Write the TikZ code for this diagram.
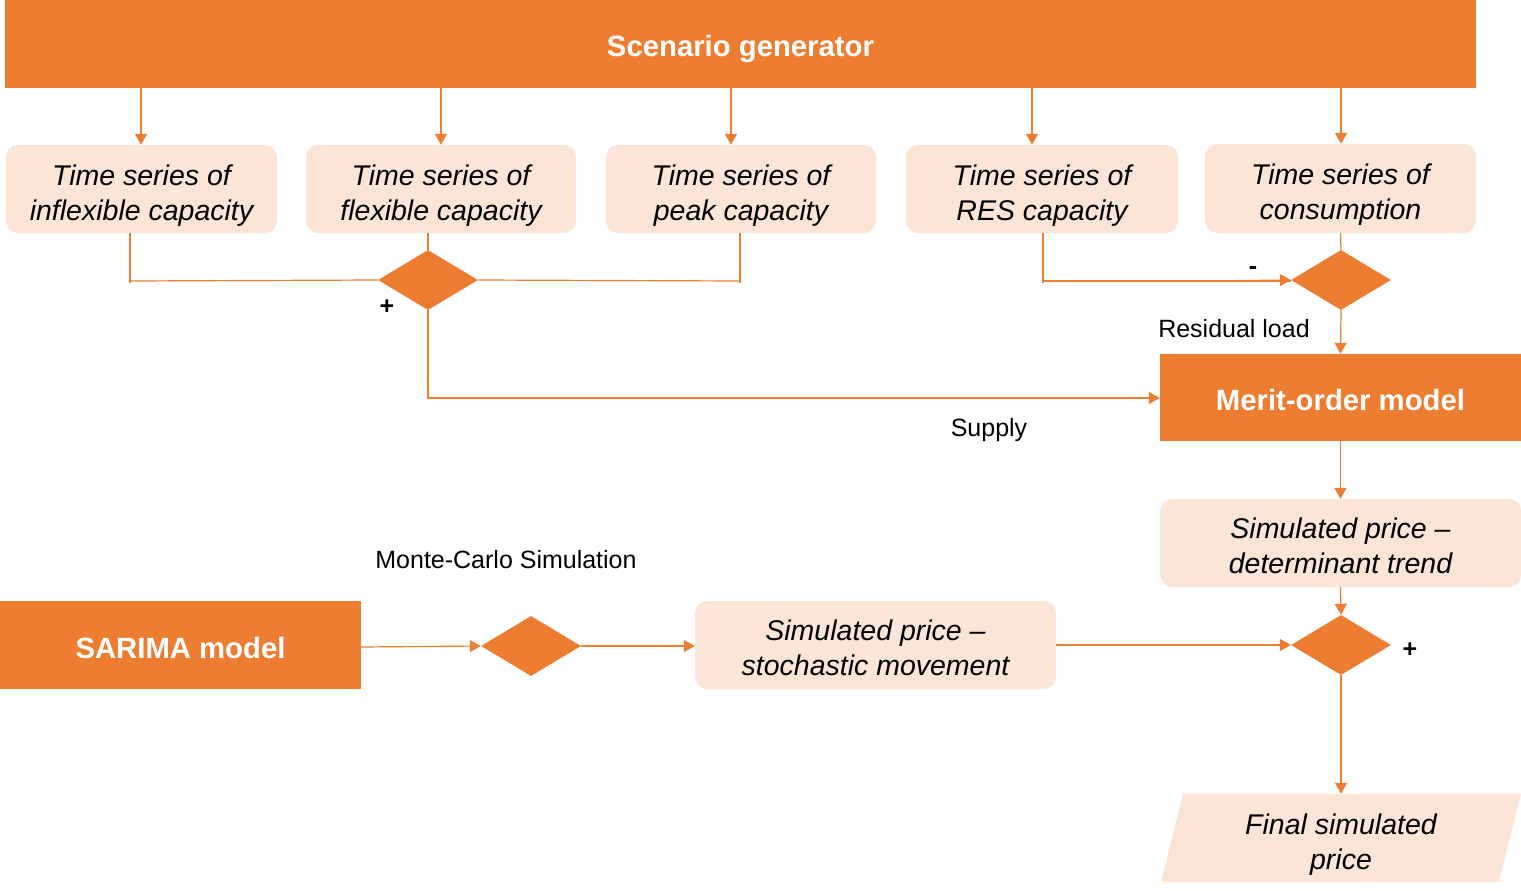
\documentclass[tikz,border=0pt]{standalone}
\usepackage{fontspec}
\setmainfont{Liberation Sans}
\usetikzlibrary{arrows.meta,shapes.geometric}
\definecolor{orng}{HTML}{ED7D31}
\definecolor{lite}{HTML}{FBE5D6}
\newcommand{\dnstrut}[1]{\rule{0pt}{#1}}
\tikzset{
  conn/.style={draw=orng, line width=1.2pt},
  arr/.style={conn, -{Triangle[width=12pt,length=11pt]}},
  txtdown/.style={execute at begin node={\rule{0pt}{#1}}},
  darkbox/.style={fill=orng, text=white, font=\fontsize{29.3}{35}\selectfont\bfseries, inner sep=0pt, align=center},
  litebox/.style={fill=lite, rounded corners=12pt, text=black, font=\fontsize{28.5}{35}\selectfont\itshape, inner sep=0pt, align=center, minimum height=88pt},
  joint/.style={diamond, fill=orng, inner sep=0pt, minimum width=100pt, minimum height=60pt, aspect=1.6667},
  lbl/.style={font=\fontsize{25}{30}\selectfont, inner sep=0pt},
  sign/.style={font=\fontsize{25}{30}\selectfont\bfseries, inner sep=0pt}
}
\begin{document}
\begin{tikzpicture}[x=1pt,y=-1pt]
\useasboundingbox (0,0) rectangle (1521,891);
% top
\node[darkbox, txtdown=31pt, minimum width=1471pt, minimum height=88pt] (scen) at (740.5,44) {Scenario generator};
\node[litebox, minimum width=271pt] (b1) at (141.5,189) {\dnstrut{33pt}Time series of\\inflexible capacity};
\node[litebox, minimum width=270pt] (b2) at (441,189) {\dnstrut{33pt}Time series of\\flexible capacity};
\node[litebox, minimum width=270pt] (b3) at (741,189) {\dnstrut{33pt}Time series of\\peak capacity};
\node[litebox, minimum width=272pt] (b4) at (1042,189) {\dnstrut{33pt}Time series of\\RES capacity};
\node[litebox, minimum width=271pt, minimum height=89pt] (b5) at (1340.5,188.5) {\dnstrut{32pt}Time series of\\consumption};
\foreach \b/\x in {b1/141,b2/441,b3/731,b4/1032,b5/1341}{
  \draw[arr] (\x,88) -- (\b.north -| \x,0);
}
% diamonds
\node[joint] (d1) at (428,280) {};
\node[joint] (d2) at (1341,280) {};
\node[joint] (d3) at (1341,645) {};
\node[joint] (d4) at (531,646) {};
% merit
\node[darkbox, txtdown=27pt, minimum width=361pt, minimum height=87pt] (merit) at (1340.5,397.5) {Merit-order model};
\node[litebox, minimum width=361pt] (det) at (1340.5,543) {\dnstrut{27pt}Simulated price --\\determinant trend};
\node[darkbox, txtdown=27pt, minimum width=361pt, minimum height=88pt] (sarima) at (180.5,645) {SARIMA model};
\node[litebox, minimum width=361pt] (sto) at (875.5,645) {\dnstrut{27pt}Simulated price --\\stochastic movement};
% final parallelogram
\fill[lite] (1183,794) -- (1521,794) -- (1499,882) -- (1161,882) -- cycle;
\node[font=\fontsize{28.5}{35}\selectfont\itshape, align=center, inner sep=0pt, minimum width=338pt, minimum height=88pt] (final) at (1341,838) {\dnstrut{33pt}Final simulated\\price};
% connectors to d1
\coordinate (c1) at (130,281);
\coordinate (c3) at (740,281);
\draw[conn] (b1.south -| c1) -- (130,283);
\draw[conn] (c1) -- (d1.west);
\draw[conn] (b2.south -| d1) -- (d1.north);
\draw[conn] (b3.south -| c3) -- (740,283);
\draw[conn] (c3) -- (d1.east);
% to d2
\coordinate (c4) at (1043,281);
\draw[conn] (b4.south -| c4) -- (1043,283);
\draw[conn] (c4) -- (1291,281);
\draw[arr] (1200,281) -- (d2.west);
\draw[conn] (b5.south) -- (d2.north);
\draw[arr] (d2.south) -- (merit.north);
% supply
\coordinate (c5) at (428,398);
\draw[arr] (d1.south) -- (c5) -- (merit.west |- c5);
\draw[arr] (merit.south) -- (det.north);
\draw[arr] (det.south) -- (d3.north);
\draw[arr] (sarima.east |- 0,647) -- (d4.west);
\draw[arr] (d4.east) -- (sto.west |- d4);
\draw[arr] (sto.east) -- (d3.west);
\draw[arr] (d3.south) -- (final.north);
% labels
\node[sign] (plus1) at (387,307) {+};
\node[sign] (minus) at (1253,271) {-};
\node[sign] (plus2) at (1410,650) {+};
\node[lbl] (resid) at (1234,329) {Residual load};
\node[lbl] (supply) at (989,430) {Supply};
\node[lbl] (mc) at (506,560) {Monte-Carlo Simulation};
\end{tikzpicture}
\end{document}
